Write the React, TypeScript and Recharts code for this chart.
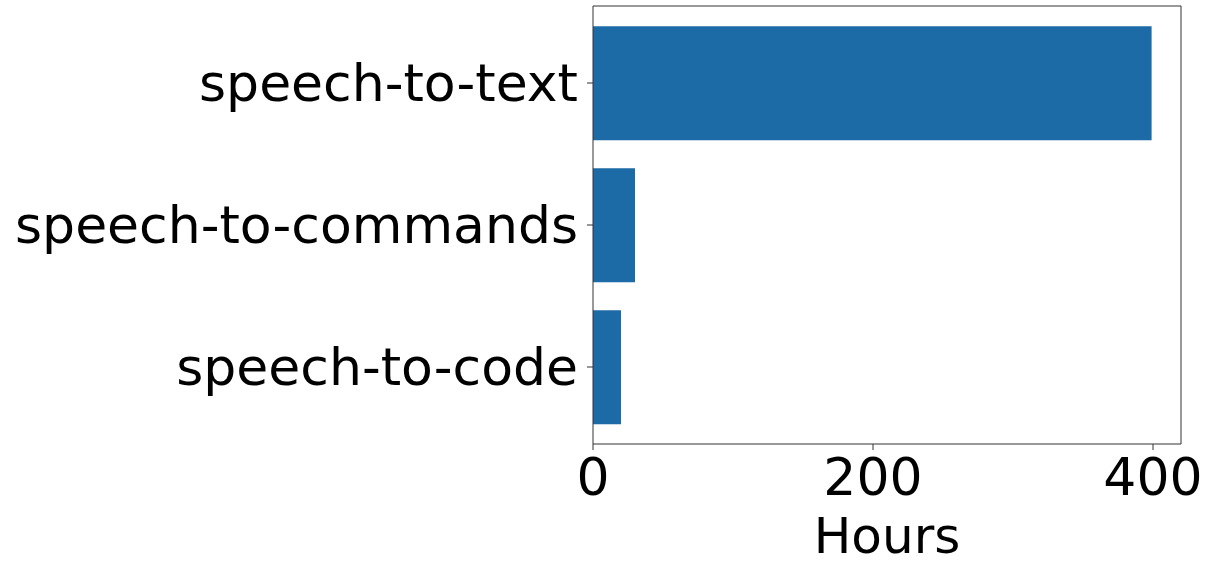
import React from "react";
import { BarChart, Bar, XAxis, YAxis } from "recharts";

const tasks = ["speech-to-text", "speech-to-commands", "speech-to-code"];
const hours = [399, 30, 20];
const xTicks = [0, 200, 400];

const data = tasks.map((task, i) => ({ task, hours: hours[i] }));

const FONT = "'DejaVu Sans', sans-serif";
const SPINE = { stroke: "#333", strokeWidth: 1 };

export default function App() {
  return (
    <div>
      <style>{"body{margin:0}"}</style>
      <BarChart
        width={1207}
        height={569}
        data={data}
        layout="vertical"
        barCategoryGap="10%"
        margin={{ top: 5, right: 25, bottom: 0, left: 0 }}
      >
        <XAxis
          type="number"
          dataKey="hours"
          domain={[0, 420]}
          ticks={xTicks}
          axisLine={SPINE}
          tickLine={{ stroke: "#333" }}
          tickSize={6}
          tickMargin={8}
          height={125}
          tick={{ fill: "#000", fontSize: 52, fontFamily: FONT }}
          label={{
            value: "Hours",
            position: "insideBottom",
            offset: 16,
            fill: "#000",
            fontSize: 50,
            fontFamily: FONT,
          }}
        />
        {/* top and right spines, like matplotlib's box */}
        <XAxis
          xAxisId="top"
          orientation="top"
          type="number"
          dataKey="hours"
          domain={[0, 420]}
          height={1}
          tick={false}
          tickLine={false}
          axisLine={SPINE}
        />
        <YAxis
          type="category"
          dataKey="task"
          width={593}
          padding={{ top: 6, bottom: 6 }}
          axisLine={SPINE}
          tickLine={{ stroke: "#333" }}
          tickSize={6}
          tickMargin={9}
          tick={{ fill: "#000", fontSize: 52, fontFamily: FONT }}
        />
        <YAxis
          yAxisId="right"
          orientation="right"
          type="category"
          dataKey="task"
          width={1}
          tick={false}
          tickLine={false}
          axisLine={SPINE}
        />
        <Bar dataKey="hours" fill="#1c6aa6" isAnimationActive={false} />
      </BarChart>
    </div>
  );
}
